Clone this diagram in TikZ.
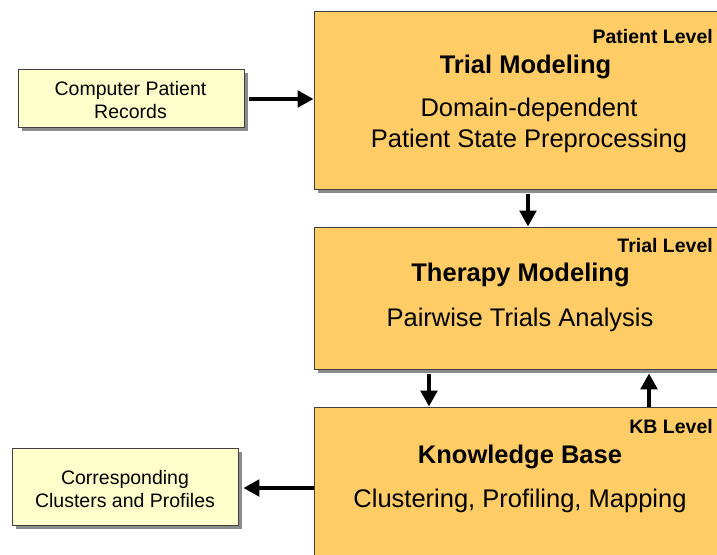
\documentclass[tikz,border=0pt]{standalone}
\usepackage{fontspec}
\setmainfont{Liberation Sans}
\usetikzlibrary{arrows.meta,shadows}
\definecolor{bigfill}{HTML}{FFCC66}
\definecolor{smallfill}{HTML}{FFFFCC}
\definecolor{edgecol}{HTML}{404040}
\definecolor{shadowcol}{HTML}{8C8C8C}
\tikzset{
  boxbase/.style={draw=edgecol, line width=0.9pt, anchor=north west, inner sep=0pt,
    general shadow={fill=shadowcol, shadow xshift=3.5pt, shadow yshift=-3.5pt}},
  bigbox/.style={boxbase, fill=bigfill},
  smallbox/.style={boxbase, fill=smallfill},
  leveltxt/.style={anchor=east, inner sep=0pt, font=\fontsize{19.5}{23}\selectfont\bfseries},
  titletxt/.style={inner sep=0pt, font=\fontsize{25.5}{30.5}\selectfont\bfseries},
  bodytxt/.style={inner sep=0pt, align=center, font=\fontsize{25.5}{31}\selectfont},
  smalltxt/.style={inner sep=0pt, align=center, font=\fontsize{19.5}{23}\selectfont},
  arr/.style={line width=3.8pt, -{Triangle[length=16pt,width=16.5pt]}, shorten >=0.5pt}
}
\begin{document}
\begin{tikzpicture}[x=1pt,y=-1pt]
\clip (0,0) rectangle (717,554);
\fill[white] (0,0) rectangle (717,554);
% big boxes
\node[bigbox, minimum width=420pt, minimum height=178pt] (top) at (314,11) {};
\node[bigbox, minimum width=420pt, minimum height=142pt] (mid) at (314,227) {};
\node[bigbox, minimum width=420pt, minimum height=170pt] (kb) at (314,407) {};
% small boxes
\node[smallbox, minimum width=226pt, minimum height=58pt] (rec) at (18,69) {};
\node[smallbox, minimum width=226pt, minimum height=77pt] (clu) at (12,448) {};
% texts top
\node[leveltxt] (plevel) at (713,36.5) {Patient Level};
\node[titletxt] (ttl1) at (525.5,66.5) {Trial Modeling};
\node[bodytxt] (body1) at (529,125.5) {Domain-dependent\\Patient State Preprocessing};
% texts middle
\node[leveltxt] (tlevel) at (713,245.5) {Trial Level};
\node[titletxt] (ttl2) at (520.5,274.5) {Therapy Modeling};
\node[bodytxt] (body2) at (520,319.5) {Pairwise Trials Analysis};
% texts bottom
\node[leveltxt] (kblevel) at (713,426.5) {KB Level};
\node[titletxt] (ttl3) at (520,456.5) {Knowledge Base};
\node[bodytxt] (body3) at (520,500.5) {Clustering, Profiling, Mapping};
% small texts
\node[smalltxt] (rectxt) at (130.5,100.5) {Computer Patient\\Records};
\node[smalltxt] (clutxt) at (125,489.5) {Corresponding\\Clusters and Profiles};
% connector x positions
\coordinate (xa) at (528,0);
\coordinate (xb) at (429,0);
\coordinate (xc) at (649,0);
\coordinate (ya) at (0,99);
\coordinate (yb) at (0,488);
% arrows
\draw[arr] ([xshift=4pt]rec.east |- ya) -- (top.west |- ya);
\draw[arr] ([yshift=-4pt]top.south -| xa) -- (mid.north -| xa);
\draw[arr] ([yshift=-4pt]mid.south -| xb) -- (kb.north -| xb);
\draw[arr] (kb.north -| xc) -- ([yshift=-3pt]mid.south -| xc);
\draw[arr] (kb.west |- yb) -- ([xshift=4pt]clu.east |- yb);
\end{tikzpicture}
\end{document}
